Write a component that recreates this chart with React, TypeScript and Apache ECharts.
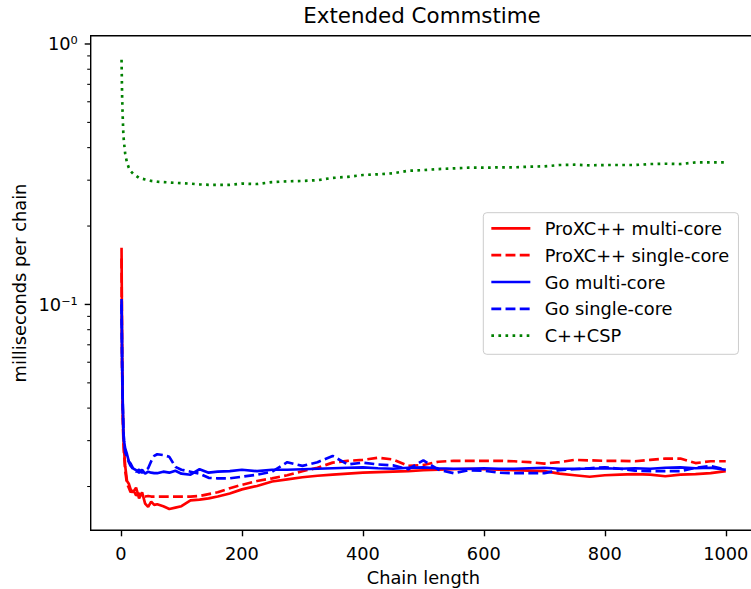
import React, { useEffect, useRef } from 'react';
import * as echarts from 'echarts';

// ---- data ----
const chainLengths = [
  1, 2, 3, 4, 5, 7, 10, 13, 16, 20,
  25, 30, 35, 40, 45, 50, 55, 60, 70, 80,
  90, 100, 115, 130, 145, 160, 180, 200, 225, 250,
  275, 300, 325, 350, 375, 400, 425, 450, 475, 500,
  525, 550, 575, 600, 625, 650, 675, 700, 725, 750,
  775, 800, 825, 850, 875, 900, 925, 950, 975, 1000,
];

const proxcMulti = [
  0.165, 0.06, 0.04, 0.031, 0.028, 0.024, 0.021, 0.0205, 0.0195, 0.019,
  0.0198, 0.018, 0.019, 0.0172, 0.0167, 0.0175, 0.017, 0.0171, 0.0168, 0.0164,
  0.0166, 0.0168, 0.0177, 0.0178, 0.018, 0.0183, 0.0188, 0.0195, 0.0201, 0.0209,
  0.0213, 0.0217, 0.022, 0.0222, 0.0224, 0.0226, 0.0227, 0.0228, 0.0229, 0.0231,
  0.0232, 0.0233, 0.0234, 0.0233, 0.0232, 0.0231, 0.023, 0.0229, 0.0224, 0.0221,
  0.0218, 0.0221, 0.0222, 0.0223, 0.0222, 0.0219, 0.0222, 0.0223, 0.0225, 0.0229,
];

const proxcSingle = [
  0.15, 0.055, 0.038, 0.03, 0.027, 0.023, 0.0205, 0.0198, 0.019, 0.0195,
  0.0185, 0.0188, 0.0183, 0.0183, 0.0184, 0.0183, 0.0183, 0.0183, 0.0183, 0.0183,
  0.0183, 0.0183, 0.0183, 0.0184, 0.0187, 0.019, 0.0197, 0.0203, 0.021, 0.0215,
  0.0221, 0.0229, 0.0236, 0.0247, 0.0251, 0.0253, 0.0258, 0.0254, 0.024, 0.0242,
  0.0249, 0.0251, 0.0251, 0.0251, 0.0251, 0.025, 0.0248, 0.0245, 0.0248, 0.0253,
  0.0252, 0.0251, 0.0251, 0.025, 0.0253, 0.0256, 0.0256, 0.0246, 0.025, 0.025,
];

const goMulti = [
  0.105, 0.06, 0.042, 0.033, 0.03, 0.028, 0.0266, 0.025, 0.0245, 0.0235,
  0.0231, 0.0226, 0.0232, 0.0224, 0.0228, 0.0226, 0.0225, 0.0225, 0.0228, 0.0226,
  0.023, 0.0224, 0.0222, 0.0233, 0.0226, 0.0228, 0.0229, 0.0232, 0.0229, 0.0232,
  0.0232, 0.0233, 0.0234, 0.0235, 0.0236, 0.0237, 0.0235, 0.0234, 0.0236, 0.0237,
  0.0235, 0.0234, 0.0234, 0.0235, 0.0234, 0.0234, 0.0235, 0.0236, 0.0234, 0.0234,
  0.0234, 0.0235, 0.0234, 0.0235, 0.0234, 0.0236, 0.0237, 0.0235, 0.0236, 0.0232,
];

const goSingle = [
  0.1, 0.058, 0.041, 0.033, 0.03, 0.027, 0.026, 0.0248, 0.024, 0.0234,
  0.0228, 0.0232, 0.0226, 0.023, 0.0235, 0.025, 0.0262, 0.0266, 0.0264, 0.026,
  0.0238, 0.0232, 0.0228, 0.0224, 0.0216, 0.0215, 0.0215, 0.0218, 0.0222, 0.0228,
  0.0248, 0.024, 0.0248, 0.0262, 0.0243, 0.0247, 0.0243, 0.0241, 0.0233, 0.0252,
  0.0232, 0.0225, 0.0231, 0.023, 0.0226, 0.0225, 0.0225, 0.0225, 0.0231, 0.0233,
  0.0235, 0.0237, 0.0234, 0.023, 0.0229, 0.0229, 0.0229, 0.0236, 0.024, 0.0232,
];

const cppCsp = [
  0.87, 0.62, 0.52, 0.45, 0.42, 0.38, 0.35, 0.335, 0.325, 0.318,
  0.312, 0.306, 0.304, 0.302, 0.3, 0.298, 0.297, 0.296, 0.295, 0.294,
  0.293, 0.292, 0.291, 0.289, 0.288, 0.288, 0.288, 0.291, 0.29, 0.295,
  0.297, 0.298, 0.3, 0.306, 0.309, 0.314, 0.316, 0.319, 0.326, 0.328,
  0.331, 0.333, 0.335, 0.335, 0.336, 0.336, 0.338, 0.339, 0.343, 0.344,
  0.342, 0.343, 0.343, 0.343, 0.346, 0.347, 0.346, 0.351, 0.351, 0.351,
];

const seriesNames = [
  'ProXC++ multi-core',
  'ProXC++ single-core',
  'Go multi-core',
  'Go single-core',
  'C++CSP',
];

const xTickValues = [0, 200, 400, 600, 800, 1000];
const yMajorTicks = [0.1, 1];
const yMajorLabels = ['10\u207B\u00B9', '10\u2070'];
const yMinorTicks = [
  0.02, 0.03, 0.04, 0.05, 0.06, 0.07, 0.08, 0.09,
  0.2, 0.3, 0.4, 0.5, 0.6, 0.7, 0.8, 0.9,
];

// ---- axis ranges / styles ----
const X_MIN = -50;
const X_MAX = 1050;
const Y_MIN = 0.01358;
const Y_MAX = 1.076;
const FONT = '"DejaVu Sans", sans-serif';
const FS = 17.8;
const LW = 2.67;

const pairs = (ys: number[]) => chainLengths.map((x, i) => [x, ys[i]]);

export default function App() {
  const ref = useRef<HTMLDivElement>(null);

  useEffect(() => {
    if (!ref.current) return;
    const chart = echarts.init(ref.current, undefined, { renderer: 'svg' });

    const lineSeries = (name: string, ys: number[], color: string, type: any) => ({
      type: 'line',
      name,
      data: pairs(ys),
      symbol: 'none',
      showSymbol: false,
      color,
      lineStyle: { color, width: LW, type, cap: 'butt' },
      itemStyle: { color, opacity: 0 },
      emphasis: { disabled: true },
      z: 3,
    });

    const option: any = {
      animation: false,
      backgroundColor: '#ffffff',
      title: {
        text: 'Extended Commstime',
        left: 422,
        textAlign: 'center',
        top: 5,
        padding: 0,
        textStyle: { fontFamily: FONT, fontSize: 21.4, fontWeight: 'normal', color: '#000' },
      },
      grid: {
        left: 90.7,
        top: 35.7,
        right: -5,
        bottom: 58.7,
        show: true,
        borderColor: '#000',
        borderWidth: 1.4,
        backgroundColor: 'transparent',
        containLabel: false,
        outerBoundsMode: 'none',
      },
      legend: {
        orient: 'vertical',
        left: 483.3,
        top: 212.7,
        data: seriesNames,
        selectedMode: false,
        itemWidth: 39,
        itemHeight: 18,
        itemGap: 8.85,
        padding: [6.6, 9.3, 9.6, 6.7],
        backgroundColor: 'rgba(255,255,255,0.8)',
        borderColor: '#cccccc',
        borderWidth: 1,
        borderRadius: 3.5,
        itemStyle: { opacity: 0, borderWidth: 0 },
        lineStyle: { width: LW },
        textStyle: {
          fontFamily: FONT,
          fontSize: FS,
          color: '#000',
          lineHeight: 18,
          padding: [0, 0, 0, 9.3],
        },
      },
      xAxis: {
        type: 'value',
        min: X_MIN,
        max: X_MAX,
        name: 'Chain length',
        nameLocation: 'middle',
        nameGap: 38,
        nameTextStyle: { fontFamily: FONT, fontSize: FS, color: '#000' },
        axisLine: { show: false },
        splitLine: { show: false },
        axisTick: {
          show: true,
          length: 6,
          customValues: xTickValues,
          lineStyle: { color: '#000', width: 1.4 },
        },
        axisLabel: {
          customValues: xTickValues,
          margin: 14,
          fontFamily: FONT,
          fontSize: FS,
          color: '#000',
          showMinLabel: true,
          showMaxLabel: true,
          formatter: (v: number) => String(v),
        },
      },
      yAxis: {
        type: 'log',
        logBase: 10,
        min: Y_MIN,
        max: Y_MAX,
        name: 'milliseconds per chain',
        nameLocation: 'middle',
        nameGap: 62,
        nameTextStyle: { fontFamily: FONT, fontSize: FS, color: '#000' },
        axisLine: { show: false },
        axisTick: { show: false },
        axisLabel: { show: false },
        splitLine: { show: false },
      },
      series: [
        lineSeries(seriesNames[0], proxcMulti, '#ff0000', 'solid'),
        lineSeries(seriesNames[1], proxcSingle, '#ff0000', [9.9, 4.3]),
        lineSeries(seriesNames[2], goMulti, '#0000ff', 'solid'),
        lineSeries(seriesNames[3], goSingle, '#0000ff', [9.9, 4.3]),
        lineSeries(seriesNames[4], cppCsp, '#008000', [2.67, 4.4]),
        {
          type: 'custom',
          name: 'y-major-ticks',
          silent: true,
          clip: false,
          data: yMajorTicks.map((v) => [X_MIN, v]),
          encode: { x: 0, y: 1 },
          renderItem: (params: any, api: any) => {
            const p = api.coord([api.value(0), api.value(1)]);
            return {
              type: 'group',
              children: [
                {
                  type: 'line',
                  shape: { x1: p[0] - 6, y1: p[1], x2: p[0], y2: p[1] },
                  style: { stroke: '#000', lineWidth: 1.4 },
                },
                {
                  type: 'text',
                  style: {
                    text: yMajorLabels[params.dataIndex],
                    x: p[0] - 13,
                    y: p[1],
                    align: 'right',
                    verticalAlign: 'middle',
                    fill: '#000',
                    fontFamily: FONT,
                    fontSize: FS,
                  },
                },
              ],
            };
          },
        },
        {
          type: 'custom',
          name: 'y-minor-ticks',
          silent: true,
          clip: false,
          data: yMinorTicks.map((v) => [X_MIN, v]),
          encode: { x: 0, y: 1 },
          renderItem: (params: any, api: any) => {
            const p = api.coord([api.value(0), api.value(1)]);
            return {
              type: 'line',
              shape: { x1: p[0] - 3.5, y1: p[1], x2: p[0], y2: p[1] },
              style: { stroke: '#000', lineWidth: 1.07 },
            };
          },
        },
      ],
    };

    chart.setOption(option);
    return () => {
      chart.dispose();
    };
  }, []);

  return (
    <div
      ref={ref}
      style={{ position: 'absolute', left: 0, top: 0, width: 751, height: 589 }}
    />
  );
}
